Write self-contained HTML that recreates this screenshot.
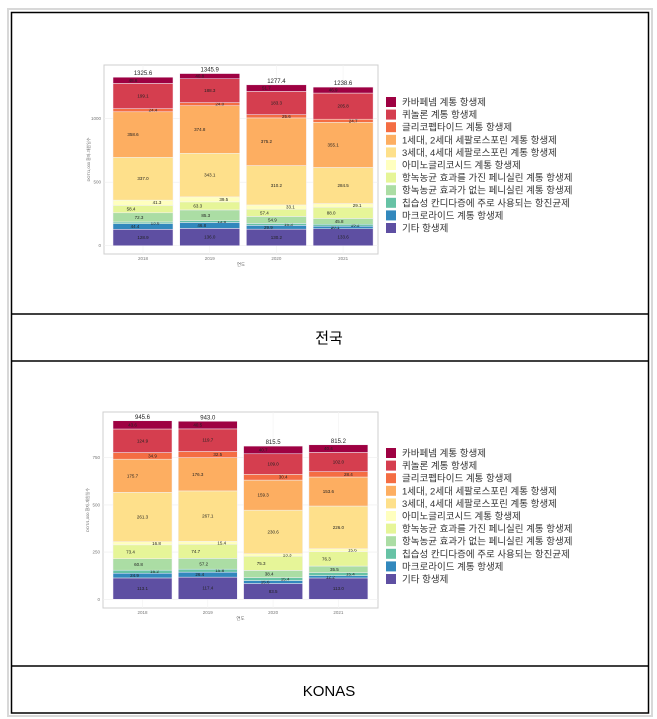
<!DOCTYPE html>
<html><head><meta charset="utf-8"><style>
body{margin:0;background:#fff;font-family:"Liberation Sans","Noto Sans CJK KR",sans-serif}
svg{display:block}
</style></head><body>
<svg id="s" width="657" height="719" xmlns="http://www.w3.org/2000/svg" font-family="Liberation Sans, Noto Sans CJK KR, sans-serif">
<rect x="8" y="9" width="644" height="707" fill="none" stroke="#d8d8d8" stroke-width="2"/>
<rect x="11.5" y="12.5" width="637" height="700.5" fill="none" stroke="#000" stroke-width="1.5"/>
<line x1="11" y1="314" x2="649" y2="314" stroke="#000" stroke-width="1.5"/>
<line x1="11" y1="361" x2="649" y2="361" stroke="#000" stroke-width="1.5"/>
<line x1="11" y1="666" x2="649" y2="666" stroke="#000" stroke-width="1.5"/>
<text x="329" y="343" font-size="15" text-anchor="middle">전국</text>
<text x="329" y="696" font-size="15" text-anchor="middle">KONAS</text>
<g id="c1"></g><g id="c2"></g>
</svg>
<script>
const categories=["2018","2019","2020","2021"];
const seriesNames=["기타 항생제","마크로라이드 계통 항생제","칩습성 칸디다증에 주로 사용되는 항진균제","항녹농균 효과가 없는 페니실린 계통 항생제","항녹농균 효과를 가진 페니실린 계통 항생제","아미노글리코시드 계통 항생제","3세대, 4세대 세팔로스포린 계통 항생제","1세대, 2세대 세팔로스포린 계통 항생제","글리코펩타이드 계통 항생제","퀴놀론 계통 항생제","카바페넴 계통 항생제"];
const colors=["#5E4FA2","#3288BD","#66C2A5","#ABDDA4","#E6F598","#FFFFBF","#FEE08B","#FDAE61","#F46D43","#D53E4F","#9E0142"];
const nationalValues=[
[128.9,44.4,13.6,72.3,58.4,41.3,337.0,358.6,24.4,199.1,48.6],
[136.0,46.8,13.6,85.3,63.3,39.5,343.1,374.8,24.0,188.3,40.8],
[130.2,29.9,15.3,54.9,57.4,33.1,310.2,375.2,25.6,183.3,51.7],
[133.6,20.1,15.2,45.8,88.0,29.1,284.5,355.1,24.7,205.8,46.9]];
const nationalTotals=[1325.6,1345.9,1277.4,1238.6];
const nationalTicks=[0,500,1000];
const konasValues=[
[113.1,24.9,16.2,60.8,73.4,16.8,261.3,175.7,34.9,124.9,43.6],
[117.4,26.4,15.8,57.2,74.7,15.4,267.1,176.3,32.5,119.7,40.5],
[83.5,15.6,15.4,38.4,75.3,13.3,230.6,159.3,30.4,109.0,40.7],
[113.0,12.2,15.4,35.5,76.3,15.6,226.0,153.6,28.4,102.0,40.4]];
const konasTotals=[945.6,943.0,815.5,815.2];
const konasTicks=[0,250,500,750];
const NS="http://www.w3.org/2000/svg";
function mk(p,t,a,txt){const e=document.createElementNS(NS,t);for(const k in a)e.setAttribute(k,a[k]);if(txt!=null)e.textContent=txt;p.appendChild(e);return e;}
function draw(gid,vals,totals,ticks,cfg){
 const g=document.getElementById(gid);
 const y=v=>cfg.y0-v*cfg.k;
 const x=i=>cfg.x0+i*cfg.pitch;
 const p=mk(g,'rect',{x:cfg.px,y:cfg.py,width:cfg.pw,height:cfg.ph,fill:'#fff',stroke:'#cfcfcf','stroke-width':1});
 
 ticks.forEach(t=>{
  mk(g,'line',{x1:cfg.px,x2:cfg.px+cfg.pw,y1:y(t),y2:y(t),stroke:'#eeeeee','stroke-width':0.6});
  const tl=mk(g,'text',{x:cfg.px-3,y:y(t)+1.5,'font-size':4.5,fill:'#777','text-anchor':'end'},String(t));
  
 });
 categories.forEach((c,i)=>{
  mk(g,'line',{x1:x(i)+cfg.bw/2,x2:x(i)+cfg.bw/2,y1:cfg.py,y2:cfg.py+cfg.ph,stroke:'#f2f2f2','stroke-width':0.6});
  let acc=0;
  vals[i].forEach((v,j)=>{
   const r=mk(g,'rect',{x:x(i),y:y(acc+v),width:cfg.bw,height:v*cfg.k,fill:colors[j],stroke:'#f4f0f8','stroke-width':0.5});
   
   const off=[0,-8,12,-4,-12,14,0,-10,10,0,-10][j];
   const tx=mk(g,'text',{x:x(i)+cfg.bw/2+off,y:y(acc+v/2)+1.5,'font-size':4.5,fill:'#222','text-anchor':'middle'},v.toFixed(1));
   
   acc+=v;
  });
  const tt=mk(g,'text',{x:x(i)+cfg.bw/2,y:y(acc)-2,'font-size':6,fill:'#222','text-anchor':'middle'},totals[i].toFixed(1));
  
  const xl=mk(g,'text',{x:x(i)+cfg.bw/2,y:cfg.py+cfg.ph+6,'font-size':4.5,fill:'#777','text-anchor':'middle'},c);
  
 });
 const xt=mk(g,'text',{x:cfg.px+cfg.pw/2,y:cfg.py+cfg.ph+12,'font-size':4.5,fill:'#666','text-anchor':'middle'},'연도');
 
 const yt=mk(g,'text',{x:0,y:0,'font-size':4,fill:'#666','text-anchor':'middle',transform:`translate(${cfg.px-14},${cfg.py+cfg.ph/2}) rotate(-90)`},'DOT/1,000 환자-재원일수');
 
 for(let j=10;j>=0;j--){
  const row=10-j, ly=cfg.ly+row*12.6;
  const sw=mk(g,'rect',{x:386,y:ly,width:10,height:10,fill:colors[j]});
  
  const lt=mk(g,'text',{x:402,y:ly+8.5,'font-size':9.5,fill:'#333'},seriesNames[j]);
  
 }
}
draw('c1',nationalValues,nationalTotals,nationalTicks,{y0:245.7,k:0.127,x0:113,pitch:66.7,bw:60,px:104,py:65,pw:274,ph:189,ly:97});
draw('c2',konasValues,konasTotals,konasTicks,{y0:599.3,k:0.1888,x0:113,pitch:65.3,bw:59,px:103,py:412,pw:275,ph:196,ly:448});
</script>
</body></html>
